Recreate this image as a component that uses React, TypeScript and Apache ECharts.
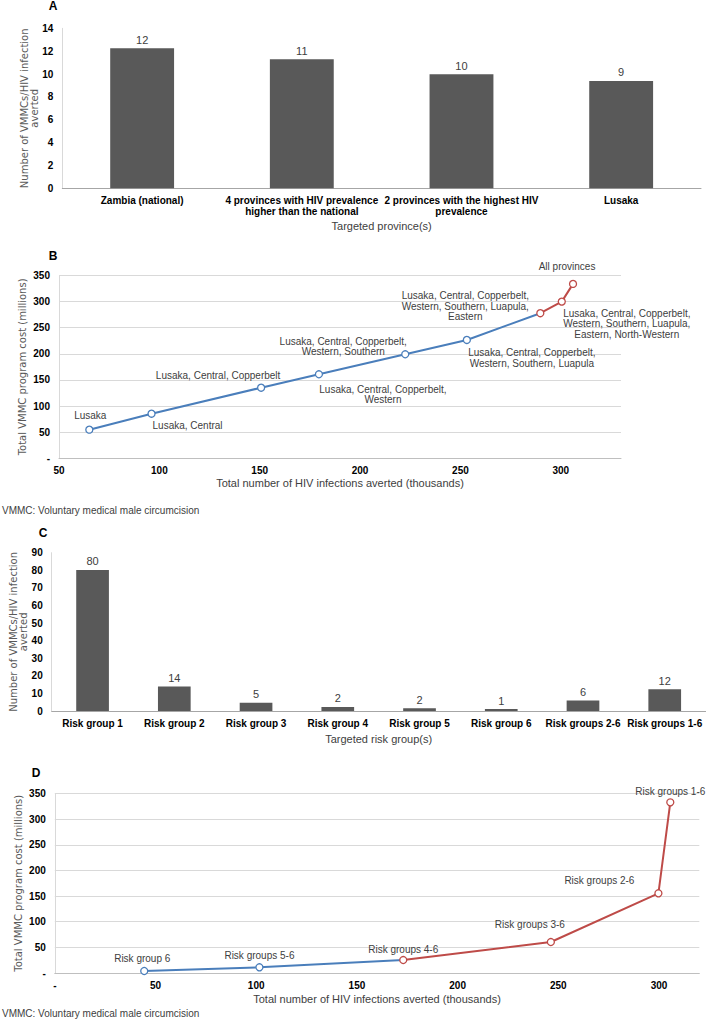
import React, { useEffect, useRef } from "react";
import * as echarts from "echarts";

// ---------- Panel A ----------
const provinceCategories = [
  "Zambia (national)",
  "4 provinces with HIV prevalence\nhigher than the national",
  "2 provinces with the highest HIV\nprevalence",
  "Lusaka",
];
const provinceRatio = [12.25, 11.3, 9.97, 9.39];

// ---------- Panel B ----------
const provinceAverted = [65.1, 96.1, 150.7, 179.5, 222.5, 253.2, 289.8, 300.5, 306.1];
const provinceCost = [54.8, 85.4, 135.2, 160.9, 199.2, 226.6, 277.8, 300, 333.9];
const provinceSetLabels = [
  "Lusaka",
  "Lusaka, Central",
  "Lusaka, Central, Copperbelt",
  "Lusaka, Central, Copperbelt,\nWestern",
  "Lusaka, Central, Copperbelt,\nWestern, Southern",
  "Lusaka, Central, Copperbelt,\nWestern, Southern, Luapula",
  "Lusaka, Central, Copperbelt,\nWestern, Southern, Luapula,\nEastern",
  "Lusaka, Central, Copperbelt,\nWestern, Southern, Luapula,\nEastern, North-Western",
  "All provinces",
];
const provinceSwitchIndex = 6; // blue up to here, red from here

// ---------- Panel C ----------
const riskCategories = [
  "Risk group 1",
  "Risk group 2",
  "Risk group 3",
  "Risk group 4",
  "Risk group 5",
  "Risk group 6",
  "Risk groups 2-6",
  "Risk groups 1-6",
];
const riskRatio = [80.2, 13.9, 4.76, 2.3, 1.5, 1.1, 5.9, 12.4];

// ---------- Panel D ----------
const riskAverted = [44.4, 101.6, 173, 246.3, 299.7, 305.6];
const riskCost = [3.9, 11.1, 25.3, 60.4, 155.4, 332.8];
const riskSetLabels = [
  "Risk group 6",
  "Risk groups 5-6",
  "Risk groups 4-6",
  "Risk groups 3-6",
  "Risk groups 2-6",
  "Risk groups 1-6",
];
const riskSwitchIndex = 2;

const footnote = "VMMC: Voluntary medical male circumcision";

// label placement (styling) relative to each point
const provinceLabelOffsets = [
  [1, -14], [36, 12], [-43, -12], [64, 20], [-62, -8], [65, 18], [-75, -7], [65, 22], [-6, -17],
];
const riskLabelOffsets = [[-2, -12], [0, -12], [0, -11], [-21, -18], [-59, -13], [0, -11]];

const FONT = "Liberation Sans";
const NAME_FONT = "DejaVu Sans";
const BLUE = "#4a7ebb";
const RED = "#be4b48";
const BAR = "#595959";

function lineSeries(xs, ys, names, offsets, from, to, color, hideLast, idx, z) {
  const data = [];
  for (let i = from; i <= to; i++) {
    const hidden = hideLast && i === to;
    data.push({
      name: names[i],
      value: [xs[i], ys[i]],
      symbol: hidden ? "none" : "circle",
      label: { show: !hidden, offset: offsets[i] },
    });
  }
  return {
    type: "line",
    xAxisIndex: idx,
    yAxisIndex: idx,
    data,
    z,
    symbolSize: 7,
    showAllSymbol: true,
    lineStyle: { color, width: 2 },
    itemStyle: { color: "#ffffff", borderColor: color, borderWidth: 1.3 },
    label: {
      show: true,
      position: "inside",
      formatter: (p) => p.name,
      fontFamily: FONT,
      fontSize: 10,
      lineHeight: 10.5,
      color: "#404040",
      align: "center",
      verticalAlign: "middle",
    },
    emphasis: { disabled: true },
  };
}

const tickLabel = { fontFamily: FONT, fontWeight: "bold", fontSize: 10, color: "#000" };
const yNameStyle = { fontFamily: NAME_FONT, fontSize: 10, color: "#595959", lineHeight: 10 };
const xNameStyle = { fontFamily: FONT, fontSize: 11, color: "#404040" };
const dash = (v) => (v === 0 ? "-" : String(v));
const plain = (v) => String(v);

export default function App() {
  const ref = useRef(null);
  useEffect(() => {
    const chart = echarts.init(ref.current, null, { renderer: "svg" });
    const letter = (t, x, y) => ({
      type: "text",
      x,
      y,
      style: {
        text: t,
        font: `bold 12px "${FONT}"`,
        fill: "#000",
        align: "center",
        verticalAlign: "middle",
      },
    });
    const note = (y) => ({
      type: "text",
      x: 2,
      y,
      style: { text: footnote, font: `10px "${FONT}"`, fill: "#404040", verticalAlign: "middle" },
    });
    const bars = (xi, data) => ({
      type: "bar",
      xAxisIndex: xi,
      yAxisIndex: xi,
      data,
      barWidth: "40%",
      itemStyle: { color: BAR },
      label: {
        show: true,
        position: "top",
        distance: 3,
        formatter: (p) => String(Math.round(p.value)),
        fontSize: 11,
        color: "#404040",
      },
      emphasis: { disabled: true },
    });
    const valueX = (gi, min, max, gap, fmt) => ({
      type: "value",
      gridIndex: gi,
      min,
      max,
      interval: 50,
      splitLine: { show: false },
      axisTick: { show: false },
      axisLine: { show: true, lineStyle: { color: "#bfbfbf" } },
      axisLabel: { ...tickLabel, margin: 7, showMaxLabel: false, formatter: fmt },
      name: "Total number of HIV infections averted (thousands)",
      nameLocation: "middle",
      nameGap: gap,
      nameMoveOverlap: false,
      nameTextStyle: xNameStyle,
    });
    const catX = (gi, data, name, gap) => ({
      type: "category",
      gridIndex: gi,
      data,
      axisTick: { show: false },
      axisLine: { lineStyle: { color: "#a6a6a6" } },
      axisLabel: { ...tickLabel, interval: 0, margin: 7, lineHeight: 11 },
      name,
      nameLocation: "middle",
      nameGap: gap,
      nameMoveOverlap: false,
      nameTextStyle: xNameStyle,
    });
    const valueY = (gi, max, interval, grid, name, gap, fmt) => ({
      type: "value",
      gridIndex: gi,
      min: 0,
      max,
      interval,
      splitLine: { show: grid, lineStyle: { color: "#d9d9d9" } },
      axisTick: { show: false },
      axisLine: { show: true, lineStyle: { color: "#d9d9d9" } },
      axisLabel: { ...tickLabel, margin: 9, formatter: fmt },
      name,
      nameLocation: "middle",
      nameGap: gap,
      nameMoveOverlap: false,
      nameTextStyle: yNameStyle,
    });
    const ratioName = "Number of VMMCs/HIV infection\naverted";
    const costName = "Total VMMC program cost (millions)";
    chart.setOption({
      animation: false,
      textStyle: { fontFamily: FONT },
      grid: [
        { left: 62.3, top: 28.3, width: 638.7, height: 160 },
        { left: 59, top: 275.5, width: 562, height: 182.8 },
        { left: 51.7, top: 552.7, width: 653.9, height: 158.3 },
        { left: 54.8, top: 793.5, width: 644.5, height: 179.5 },
      ],
      graphic: [
        letter("A", 53, 6),
        letter("B", 53, 256),
        letter("C", 43, 533),
        letter("D", 36, 772.5),
        note(510.7),
        note(1013),
      ],
      xAxis: [
        catX(0, provinceCategories, "Targeted province(s)", 32),
        valueX(1, 50, 330, 19, plain),
        catX(2, riskCategories, "Targeted risk group(s)", 22),
        valueX(3, 0, 320, 20.5, dash),
      ],
      yAxis: [
        valueY(0, 14, 2, false, ratioName, 23, plain),
        valueY(1, 350, 50, true, costName, 32, dash),
        valueY(2, 90, 10, false, ratioName, 23, plain),
        valueY(3, 350, 50, true, costName, 31.5, dash),
      ],
      series: [
        bars(0, provinceRatio),
        lineSeries(provinceAverted, provinceCost, provinceSetLabels, provinceLabelOffsets, 0, provinceSwitchIndex, BLUE, true, 1, 2),
        lineSeries(provinceAverted, provinceCost, provinceSetLabels, provinceLabelOffsets, provinceSwitchIndex, provinceAverted.length - 1, RED, false, 1, 3),
        bars(2, riskRatio),
        lineSeries(riskAverted, riskCost, riskSetLabels, riskLabelOffsets, 0, riskSwitchIndex, BLUE, true, 3, 2),
        lineSeries(riskAverted, riskCost, riskSetLabels, riskLabelOffsets, riskSwitchIndex, riskAverted.length - 1, RED, false, 3, 3),
      ],
    });
    return () => chart.dispose();
  }, []);
  return <div ref={ref} style={{ position: "absolute", left: 0, top: 0, width: 706, height: 1019 }} />;
}
